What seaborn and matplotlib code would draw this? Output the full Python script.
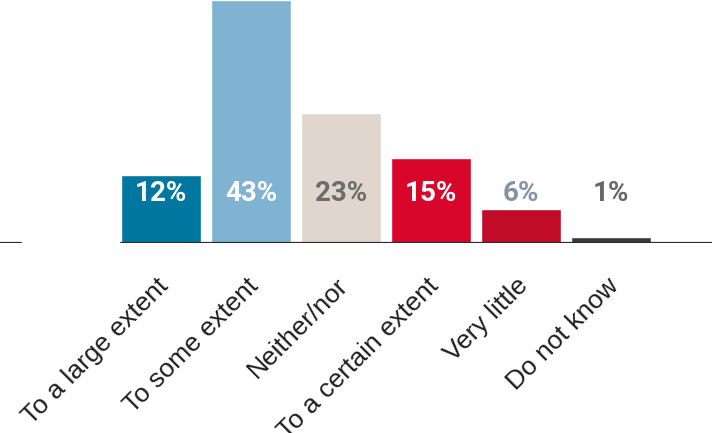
import matplotlib
matplotlib.use("Agg")
import matplotlib.pyplot as plt
import matplotlib.transforms as mtransforms
import seaborn as sns
import pandas as pd

# Survey answers and their shares (%)
categories = ["To a large extent", "To some extent", "Neither/nor",
              "To a certain extent", "Very little", "Do not know"]
shares = [12, 43, 23, 15, 6, 1]
value_labels = ["12%", "43%", "23%", "15%", "6%", "1%"]

bar_colors = ["#0077a1", "#7fb3d1", "#e0d6cd", "#d7062a", "#c00c27", "#3a3a3a"]
label_colors = ["#ffffff", "#ffffff", "#6c6c6c", "#ffffff", "#8593a3", "#686868"]

df = pd.DataFrame({"answer": categories, "share": shares})

sns.set_theme(style="white")
plt.rcParams["font.family"] = ["Liberation Sans", "DejaVu Sans"]

fig = plt.figure(figsize=(7.12, 4.33), dpi=100)
ax = fig.add_axes([0, (433 - 243) / 433, 1, 243 / 433])

sns.barplot(data=df, x="answer", y="share", hue="answer",
            palette=dict(zip(categories, bar_colors)), order=categories,
            width=0.889, legend=False, saturation=1, ax=ax)

ax.set_xlim(-161 / 90, (712 - 161) / 90)
ax.set_ylim(0, 43)
for s in ax.spines.values():
    s.set_visible(False)
ax.set_yticks([])
ax.set_xlabel("")
ax.set_ylabel("")

# Baseline
ax.axhline(0, xmin=0, xmax=21 / 712, color="#2b2b2b", lw=1.6, zorder=5)
ax.axhline(0, xmin=121 / 712, xmax=1, color="#2b2b2b", lw=1.6, zorder=5)

# Value labels on one common row
for i, (lab, col) in enumerate(zip(value_labels, label_colors)):
    ax.text(i, 8.7, lab, ha="center", va="center", color=col,
            fontsize=20, fontweight="bold",
            family=["Roboto", "DejaVu Sans"], zorder=6)

# Rotated category labels
ax.set_xticks(range(len(categories)))
ax.set_xticklabels(categories, rotation=45, ha="right", va="top",
                   rotation_mode="anchor", fontsize=19, color="#1e1e1e")
ax.tick_params(axis="x", length=0, pad=22)
shift = mtransforms.ScaledTranslation(-5 / 100, 0, fig.dpi_scale_trans)
for t in ax.get_xticklabels():
    t.set_transform(t.get_transform() + shift)

fig.savefig("out.png", dpi=100)
